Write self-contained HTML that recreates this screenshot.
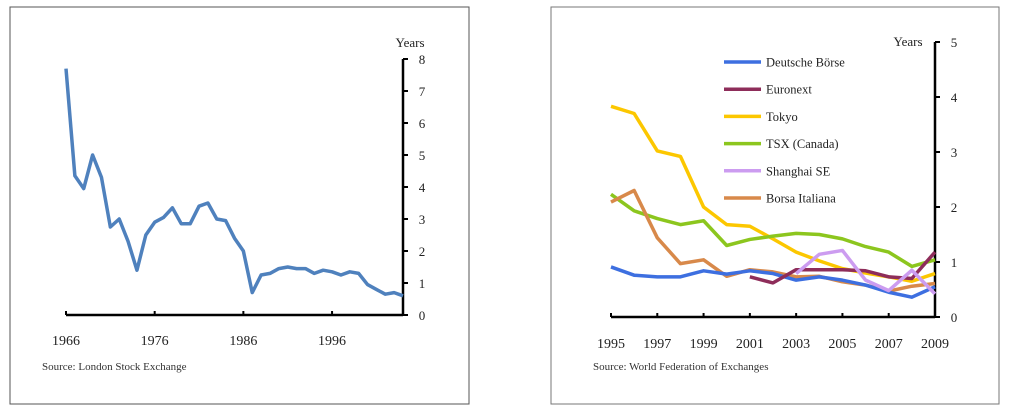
<!DOCTYPE html>
<html><head><meta charset="utf-8"><style>
body{margin:0;background:#fff;}
svg{display:block;font-family:"Liberation Serif",serif;}
</style></head><body>
<svg width="1013" height="415">
<rect x="10" y="7" width="459" height="397" fill="#fff" stroke="#555" stroke-width="1"/>
<rect x="551" y="7" width="448" height="397" fill="#fff" stroke="#777" stroke-width="1"/>
<g id="left"></g>
<g id="right"></g>
</svg>
<script>
const lseYears=[1966,1967,1968,1969,1970,1971,1972,1973,1974,1975,1976,1977,1978,1979,1980,1981,1982,1983,1984,1985,1986,1987,1988,1989,1990,1991,1992,1993,1994,1995,1996,1997,1998,1999,2000,2001,2002,2003,2004];
const lseValues=[7.7,4.35,3.95,5.0,4.3,2.75,3.0,2.3,1.4,2.5,2.9,3.05,3.35,2.85,2.85,3.4,3.5,3.0,2.95,2.4,2.0,0.7,1.25,1.3,1.45,1.5,1.45,1.45,1.3,1.4,1.35,1.25,1.35,1.3,0.95,0.8,0.65,0.7,0.6];
const leftXTicks=[1966,1976,1986,1996];
const leftYTicks=[0,1,2,3,4,5,6,7,8];

const wfeYears=[1995,1996,1997,1998,1999,2000,2001,2002,2003,2004,2005,2006,2007,2008,2009];
const deutsche=[0.91,0.76,0.73,0.73,0.84,0.78,0.84,0.79,0.67,0.73,0.67,0.58,0.45,0.36,0.55];
const euronext=[null,null,null,null,null,null,0.73,0.62,0.86,0.86,0.86,0.84,0.73,0.7,1.18];
const tokyo=[3.83,3.7,3.02,2.92,2.0,1.68,1.65,1.42,1.18,1.02,0.88,0.8,0.73,0.65,0.79];
const tsx=[2.23,1.93,1.79,1.68,1.75,1.3,1.41,1.47,1.52,1.5,1.42,1.28,1.18,0.92,1.04];
const shanghai=[null,null,null,null,null,null,null,null,0.79,1.14,1.21,0.67,0.48,0.85,0.42];
const borsa=[2.09,2.3,1.44,0.97,1.04,0.74,0.86,0.82,0.73,0.74,0.64,0.58,0.47,0.56,0.61];
const seriesNames=["Deutsche Börse","Euronext","Tokyo","TSX (Canada)","Shanghai SE","Borsa Italiana"];
const seriesColors=["#3d6fe0","#8e2d5a","#fcc700","#8cc61e","#cc9cf0","#d8894a"];
const rightXTicks=[1995,1997,1999,2001,2003,2005,2007,2009];
const rightYTicks=[0,1,2,3,4,5];

const NS="http://www.w3.org/2000/svg";
function mk(parent,tag,attrs,text){const e=document.createElementNS(NS,tag);for(const k in attrs)e.setAttribute(k,attrs[k]);if(text!==undefined)e.textContent=text;parent.appendChild(e);return e;}

// LEFT
const L=document.getElementById('left');
const lx=y=>66+(y-1966)*(403-66)/(2004-1966);
const ly=v=>315-v*32;
let e;
e=mk(L,'line',{x1:66,y1:315,x2:403,y2:315,stroke:'#000','stroke-width':2.5});

e=mk(L,'line',{x1:403,y1:59,x2:403,y2:316,stroke:'#000','stroke-width':2.5});

leftXTicks.forEach(t=>{
 e=mk(L,'line',{x1:lx(t),y1:311,x2:lx(t),y2:315,stroke:'#000','stroke-width':2});
 
 e=mk(L,'text',{x:lx(t),y:345,'text-anchor':'middle','font-size':14,fill:'#222'},String(t));
 
});
leftYTicks.forEach(t=>{
 e=mk(L,'line',{x1:403,y1:ly(t),x2:408,y2:ly(t),stroke:'#000','stroke-width':2});
 
 e=mk(L,'text',{x:422,y:ly(t)+5,'text-anchor':'middle','font-size':13,fill:'#222'},String(t));
 
});
e=mk(L,'text',{x:410,y:47,'text-anchor':'middle','font-size':13,fill:'#222'},'Years');

e=mk(L,'polyline',{points:lseYears.map((y,i)=>lx(y)+','+ly(lseValues[i])).join(' '),fill:'none',stroke:'#4f81bd','stroke-width':3.5,'stroke-linejoin':'round'});

e=mk(L,'text',{x:42,y:370,'font-size':11,fill:'#333'},'Source:  London Stock Exchange');


// RIGHT
const R=document.getElementById('right');
const rx=y=>611+(y-1995)*(935-611)/14;
const ry=v=>317-v*55;
e=mk(R,'line',{x1:611,y1:317,x2:935,y2:317,stroke:'#000','stroke-width':2.5});

e=mk(R,'line',{x1:935,y1:42,x2:935,y2:318,stroke:'#000','stroke-width':2.5});

rightXTicks.forEach(t=>{
 e=mk(R,'line',{x1:rx(t),y1:313,x2:rx(t),y2:317,stroke:'#000','stroke-width':2});
 
 e=mk(R,'text',{x:rx(t),y:348,'text-anchor':'middle','font-size':14,fill:'#222'},String(t));
 
});
rightYTicks.forEach(t=>{
 e=mk(R,'line',{x1:935,y1:ry(t),x2:940,y2:ry(t),stroke:'#000','stroke-width':2});
 
 e=mk(R,'text',{x:954,y:ry(t)+5,'text-anchor':'middle','font-size':13,fill:'#222'},String(t));
 
});
e=mk(R,'text',{x:908,y:46,'text-anchor':'middle','font-size':13,fill:'#222'},'Years');

const allSeries=[deutsche,euronext,tokyo,tsx,shanghai,borsa];
const drawOrder=[2,3,5,0,1,4];
drawOrder.forEach(si=>{
 const vals=allSeries[si];
 const pts=[];wfeYears.forEach((y,i)=>{if(vals[i]!==null)pts.push(rx(y)+','+ry(vals[i]));});
 e=mk(R,'polyline',{points:pts.join(' '),fill:'none',stroke:seriesColors[si],'stroke-width':3.5,'stroke-linejoin':'round'});
 
});
seriesNames.forEach((n,i)=>{
 const y=62+i*27.2;
 e=mk(R,'line',{x1:724,y1:y,x2:761,y2:y,stroke:seriesColors[i],'stroke-width':3.5});
 
 e=mk(R,'text',{x:766,y:y+4.5,'font-size':12.5,fill:'#222'},n);
 
});
e=mk(R,'text',{x:593,y:370,'font-size':11,fill:'#333'},'Source:  World Federation of Exchanges');

</script>
</body></html>
